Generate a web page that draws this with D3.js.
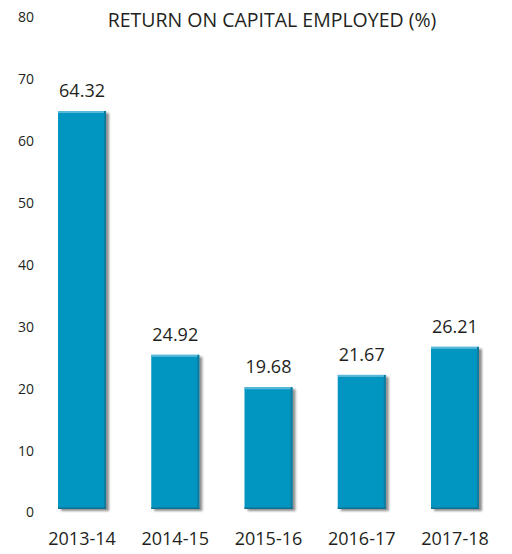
<!DOCTYPE html>
<html>
<head>
<meta charset="utf-8">
<script src="https://cdn.jsdelivr.net/npm/d3@7"></script>
<style>
  body { margin: 0; background: #fff; }
  text { font-family: "Open Sans", "Noto Sans", sans-serif; fill: #231f20; }
</style>
</head>
<body>
<svg id="chart" width="512" height="554"></svg>
<script>
// data
var years = ["2013-14", "2014-15", "2015-16", "2016-17", "2017-18"];
var roce = [64.32, 24.92, 19.68, 21.67, 26.21];
var yTicks = [0, 10, 20, 30, 40, 50, 60, 70, 80];
var title = "RETURN ON CAPITAL EMPLOYED (%)";

var svg = d3.select("#chart");

// shadow filter for bars
var defs = svg.append("defs");
var f = defs.append("filter").attr("id", "shadow")
    .attr("x", "-20%").attr("y", "-5%").attr("width", "150%").attr("height", "115%");
f.append("feDropShadow")
    .attr("dx", 3).attr("dy", 2).attr("stdDeviation", 1)
    .attr("flood-color", "#444").attr("flood-opacity", 0.6);

var x = d3.scaleBand()
    .domain(years)
    .range([35.4, 501.6])
    .paddingInner(0.485)
    .paddingOuter(0.2425);

var y = d3.scaleLinear()
    .domain([0, 80])
    .range([509, 14]);

// y axis: labels only
var yAxis = svg.append("g")
    .attr("transform", "translate(34,3.5)")
    .call(d3.axisLeft(y).tickValues(yTicks).tickSize(0).tickPadding(0));
yAxis.select(".domain").remove();
yAxis.selectAll("text")
    .style("font-size", "14px")
    .attr("fill", "#231f20");

// title
svg.append("text")
    .attr("x", 272)
    .attr("y", 27)
    .attr("text-anchor", "middle")
    .style("font-size", "19.5px")
    .text(title);

var rows = years.map(function(d, i){ return {year: d, value: roce[i]}; });

var bars = svg.append("g").selectAll("g.bar")
    .data(rows)
    .enter().append("g")
    .attr("class", "bar");

// main bar body
bars.append("rect")
    .attr("x", function(d){ return x(d.year); })
    .attr("y", function(d){ return y(d.value); })
    .attr("width", x.bandwidth())
    .attr("height", function(d){ return y(0) - y(d.value); })
    .attr("fill", "#0096c1")
    .attr("filter", "url(#shadow)");

// darker right edge
bars.append("rect")
    .attr("x", function(d){ return x(d.year) + x.bandwidth() - 2; })
    .attr("y", function(d){ return y(d.value); })
    .attr("width", 2)
    .attr("height", function(d){ return y(0) - y(d.value); })
    .attr("fill", "#0f7b9e");

// darker bottom edge
bars.append("rect")
    .attr("x", function(d){ return x(d.year); })
    .attr("y", y(0) - 1.5)
    .attr("width", x.bandwidth())
    .attr("height", 1.5)
    .attr("fill", "#0f6f8f");

// light top edge
bars.append("rect")
    .attr("x", function(d){ return x(d.year); })
    .attr("y", function(d){ return y(d.value); })
    .attr("width", x.bandwidth() - 2)
    .attr("height", 2)
    .attr("fill", "#5cb9d9");

// value labels
bars.append("text")
    .attr("x", function(d){ return x(d.year) + x.bandwidth() / 2; })
    .attr("y", function(d){ return y(d.value) - 14; })
    .attr("text-anchor", "middle")
    .style("font-size", "18px")
    .text(function(d){ return d.value.toFixed(2); });

// category labels
var xAxis = svg.append("g")
    .attr("transform", "translate(0," + 532 + ")")
    .call(d3.axisBottom(x).tickSize(0).tickPadding(0));
xAxis.select(".domain").remove();
xAxis.selectAll("text")
    .style("font-size", "18px")
    .attr("fill", "#231f20");
</script>
</body>
</html>
